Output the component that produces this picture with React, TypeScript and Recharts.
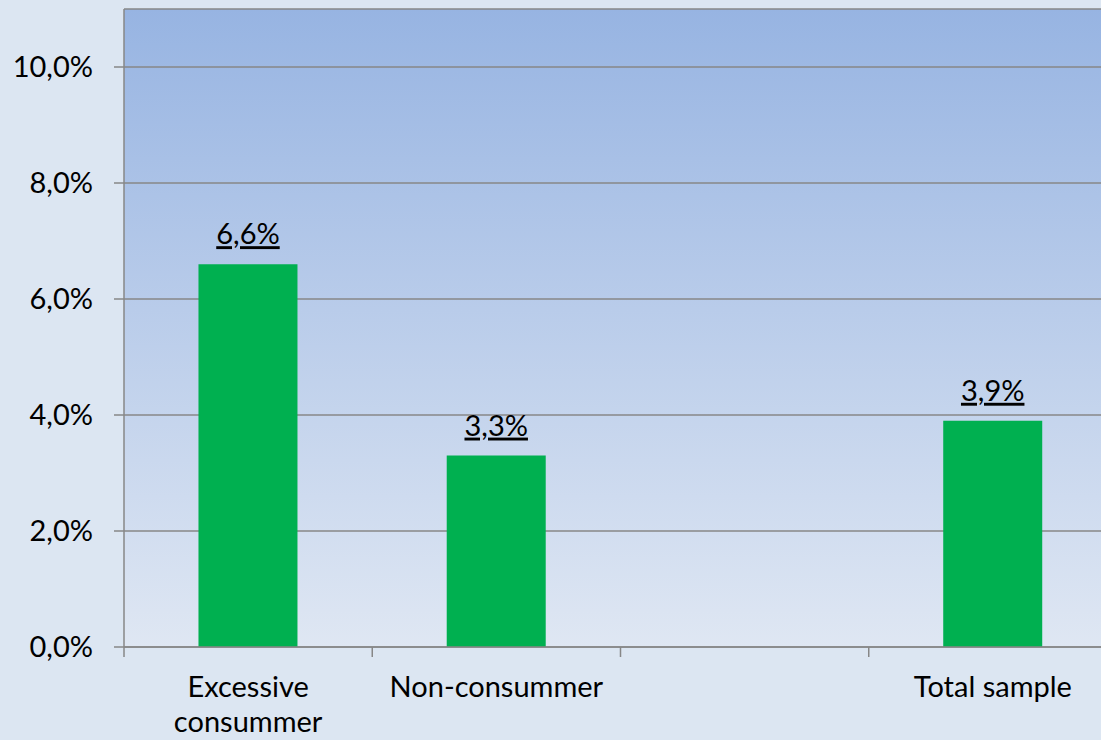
import React from 'react'
import { BarChart, Bar, XAxis, YAxis, CartesianGrid, LabelList } from 'recharts'

// values ('\n' marks the line break of a tick label)
const categories = ['Excessive\nconsummer', 'Non-consummer', '', 'Total sample']
const shares = [6.6, 3.3, null, 3.9]
const yTicks = [0, 2, 4, 6, 8, 10]

const data = categories.map((name, i) => ({ name, share: shares[i] }))

const FONT = 'Lato, "Open Sans", sans-serif'
const FONT_SIZE = 29
const GREY = '#878787'

const pct = (v: number) => `${v.toFixed(1).replace('.', ',')}%`

// category label centred in the band, tick mark on the left band edge (Excel style)
function CategoryTick(props: any) {
  const { x, y, payload, width } = props
  const half =
    typeof payload.offset === 'number' && payload.offset > 0 ? payload.offset : width / categories.length / 2
  const lines = String(payload.value).split('\n')
  return (
    <g>
      <line x1={x - half} x2={x - half} y1={y} y2={y + 10} stroke={GREY} strokeWidth={1.5} />
      <text x={x} y={y + 50} textAnchor="middle" fill="#000" fontSize={FONT_SIZE} fontFamily={FONT}>
        {lines.map((line, i) => (
          <tspan key={i} x={x} dy={i === 0 ? 0 : 35}>
            {line}
          </tspan>
        ))}
      </text>
    </g>
  )
}

function ShareLabel(props: any) {
  const { x, y, width, value } = props
  if (value == null) return null
  return (
    <text
      x={x + width / 2}
      y={y - 20}
      textAnchor="middle"
      fill="#000"
      fontSize={FONT_SIZE}
      fontFamily={FONT}
      textDecoration="underline"
    >
      {pct(value)}
    </text>
  )
}

export default function App() {
  return (
    <div
      style={{
        position: 'absolute',
        left: 0,
        top: 0,
        width: 1101,
        height: 740,
        overflow: 'hidden',
        background: '#dce6f2',
      }}
    >
      <BarChart
        width={1130}
        height={740}
        data={data}
        margin={{ top: 9, right: 13, bottom: 0, left: 0 }}
        barCategoryGap="30%"
      >
        <defs>
          <linearGradient id="plotFill" x1="0" y1="0" x2="0" y2="1">
            <stop offset="0%" stopColor="#97b4e2" />
            <stop offset="100%" stopColor="#dfe7f3" />
          </linearGradient>
        </defs>
        <CartesianGrid
          vertical={false}
          stroke={GREY}
          strokeWidth={1.5}
          fill="url(#plotFill)"
          fillOpacity={1}
        />
        <XAxis
          dataKey="name"
          interval={0}
          height={93}
          tickLine={false}
          tickSize={0}
          tickMargin={0}
          axisLine={{ stroke: GREY, strokeWidth: 1.5 }}
          tick={CategoryTick}
        />
        <YAxis
          domain={[0, 11]}
          ticks={yTicks}
          tickFormatter={pct}
          width={124}
          tickSize={10}
          tickMargin={21}
          axisLine={{ stroke: GREY, strokeWidth: 1.5 }}
          tickLine={{ stroke: GREY, strokeWidth: 1.5 }}
          tick={{ fill: '#000', fontSize: FONT_SIZE, fontFamily: FONT }}
        />
        <Bar dataKey="share" fill="#00b050" isAnimationActive={false}>
          <LabelList dataKey="share" content={ShareLabel} />
        </Bar>
      </BarChart>
    </div>
  )
}
